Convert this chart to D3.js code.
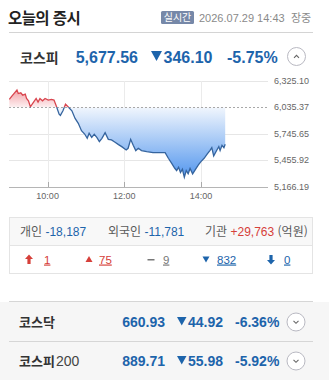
<!DOCTYPE html>
<html lang="ko">
<head>
<meta charset="utf-8">
<title>오늘의 증시</title>
<script src="https://cdn.jsdelivr.net/npm/d3@7"></script>
<style>
  html, body { margin: 0; padding: 0; background: #fff; }
  svg { display: block; }
  text { font-family: "Liberation Sans", "Noto Sans CJK KR", sans-serif; }
  .kr { font-family: "Noto Sans CJK KR", "Liberation Sans", sans-serif; }
</style>
</head>
<body>
<svg id="main" width="329" height="380"></svg>
<script>
// intraday KOSPI
var times = ["09:00","09:04","09:12","09:14","09:18","09:21","09:25","09:27","09:30","09:33",
  "09:38","09:42","09:45","09:48","09:52","09:56","10:01","10:06","10:10","10:14",
  "10:18","10:20","10:24","10:28","10:32","10:38","10:43","10:48","10:53","10:58",
  "11:02","11:05","11:09","11:13","11:17","11:21","11:25","11:30","11:35","11:40",
  "11:45","11:51","11:56","12:03","12:06","12:10","12:14","12:18","12:22","12:27",
  "12:35","12:45","13:04","13:09","13:14","13:19","13:22","13:25","13:28","13:31",
  "13:34","13:37","13:40","13:43","13:47","13:51","13:56","14:00","14:05","14:10",
  "14:14","14:17","14:20","14:25","14:28","14:30","14:33","14:36","14:38"];
var values = [6120,6156,6222,6185,6193,6167,6178,6131,6105,6040,
  6091,6131,6091,6131,6105,6131,6113,6120,6113,6040,
  5960,5946,5996,6069,6040,5996,5913,5859,5779,5742,
  5695,5750,5706,5739,5706,5659,5695,5757,5684,5677,
  5655,5626,5604,5568,5586,5684,5619,5561,5586,5561,
  5550,5539,5539,5477,5423,5368,5343,5379,5321,5357,
  5270,5343,5307,5365,5307,5350,5405,5441,5477,5524,
  5561,5593,5503,5568,5604,5561,5619,5593,5630];
var prevClose = 6035.37;
var yTicks = [6325.10, 6035.37, 5745.65, 5455.92, 5166.19];
var xTicks = ["10:00", "12:00", "14:00"];

var indexNames = ["코스피", "코스닥", "코스피"];
var indexSuffix = ["", "", "200"];
var indexValues = ["5,677.56", "660.93", "889.71"];
var indexChanges = ["346.10", "44.92", "55.98"];
var indexRates = ["-5.75%", "-6.36%", "-5.92%"];

var investorNames = ["개인", "외국인", "기관"];
var investorValues = [-18187, -11781, 29763];
var breadthCounts = [1, 75, 9, 832, 0];

var BLUE = "#1d64ab", RED = "#d6403a", GRAY = "#666";

var svg = d3.select("#main");
var fmt = d3.format(",.2f");
var fmtInt = function(v) { return d3.format(",d")(v).replace("\u2212", "-"); };

function toMin(t) { var p = t.split(":"); return (+p[0] - 9) * 60 + (+p[1]); }

// ---- header
svg.append("text").attr("class", "kr").attr("x", 8).attr("y", 24)
  .attr("font-size", 15.5).attr("font-weight", "bold").attr("fill", "#222")
  .attr("letter-spacing", -0.6).text("오늘의 증시");
svg.append("rect").attr("x", 161).attr("y", 11).attr("width", 33).attr("height", 13)
  .attr("rx", 1.5).attr("fill", "#7688a8");
svg.append("text").attr("class", "kr").attr("x", 177.5).attr("y", 21.3).attr("text-anchor", "middle")
  .attr("font-size", 10).attr("fill", "#fff").text("실시간");
svg.append("text").attr("x", 199).attr("y", 22).attr("font-size", 11).attr("fill", "#8a8a8a")
  .text("2026.07.29 14:43");
svg.append("text").attr("class", "kr").attr("x", 291).attr("y", 22).attr("font-size", 11)
  .attr("fill", "#8a8a8a").text("장중");
svg.append("line").attr("x1", 9).attr("x2", 313).attr("y1", 32.5).attr("y2", 32.5)
  .attr("stroke", "#d4d4d4");

// chevron button
function button(cx, cy, up, fill) {
  svg.append("circle").attr("cx", cx).attr("cy", cy).attr("r", 9)
    .attr("fill", fill).attr("stroke", "#b9b9c2").attr("stroke-width", 1);
  var d = up ? [[-2.5, 1.3], [0, -1.2], [2.5, 1.3]] : [[-2.5, -1.2], [0, 1.3], [2.5, -1.2]];
  svg.append("path").attr("d", d3.line()(d.map(function(p) { return [cx + p[0], cy + p[1]]; })))
    .attr("fill", "none").attr("stroke", "#666").attr("stroke-width", 1.1);
}

function indexRow(i, y, size, nameX, valEnd, chgX, rateX) {
  var t = svg.append("text").attr("class", "kr").attr("x", nameX).attr("y", y)
    .attr("font-size", size === 16 ? 14 : 13).attr("font-weight", "bold").attr("fill", "#333");
  t.append("tspan").text(indexNames[i]);
  if (indexSuffix[i]) t.append("tspan").attr("font-weight", "normal").attr("font-family", "Liberation Sans")
    .attr("font-size", 14).attr("fill", "#444").attr("dx", 1).text(indexSuffix[i]);
  svg.append("text").attr("x", valEnd).attr("y", y).attr("text-anchor", "end")
    .attr("font-size", size).attr("font-weight", "bold").attr("fill", BLUE).text(indexValues[i]);
  var s = size === 16 ? 11 : 9.5;
  var ty = y - (size === 16 ? 11.5 : 10);
  svg.append("path").attr("d", "M" + chgX + "," + ty + "h" + s + "l" + (-s / 2) + "," + (s * 0.9) + "z")
    .attr("fill", BLUE);
  svg.append("text").attr("x", chgX + s + 1.5).attr("y", y)
    .attr("font-size", size).attr("font-weight", "bold").attr("fill", BLUE).text(indexChanges[i]);
  svg.append("text").attr("x", rateX).attr("y", y)
    .attr("font-size", size).attr("font-weight", "bold").attr("fill", BLUE).text(indexRates[i]);
}

indexRow(0, 62.5, 16, 20, 138, 151, 227);
button(296.5, 56.5, true, "#fff");

// ---- chart
var x = d3.scaleLinear().domain([0, 405]).range([9.3, 268]);
var y = d3.scaleLinear().domain([5166.19, 6325.10]).range([186.7, 80.7]);
var pts = times.map(function(t, i) { return { m: toMin(t), v: values[i] }; });
var yBase = y(prevClose);

svg.selectAll("line.hgrid").data(yTicks).enter().append("line").attr("class", "hgrid")
  .attr("x1", 9).attr("x2", 268)
  .attr("y1", function(d) { return Math.round(y(d)) + 0.5; })
  .attr("y2", function(d) { return Math.round(y(d)) + 0.5; })
  .attr("stroke", function(d, i) { return i === yTicks.length - 1 ? "#b5b5b5" : "#e6e6e6"; })
  .style("display", function(d) { return d === prevClose ? "none" : null; });

svg.selectAll("line.vgrid").data(xTicks).enter().append("line").attr("class", "vgrid")
  .attr("x1", function(d) { return Math.round(x(toMin(d))) + 0.5; })
  .attr("x2", function(d) { return Math.round(x(toMin(d))) + 0.5; })
  .attr("y1", 81).attr("y2", 186.5).attr("stroke", "#ebebeb");
svg.selectAll("line.vtick").data(xTicks).enter().append("line").attr("class", "vtick")
  .attr("x1", function(d) { return Math.round(x(toMin(d))) + 0.5; })
  .attr("x2", function(d) { return Math.round(x(toMin(d))) + 0.5; })
  .attr("y1", 182).attr("y2", 187).attr("stroke", "#aaa");

svg.selectAll("text.xlab").data(xTicks).enter().append("text").attr("class", "xlab")
  .attr("x", function(d) { return x(toMin(d)); }).attr("y", 199).attr("text-anchor", "middle")
  .attr("font-size", 9).attr("fill", GRAY).text(function(d) { return d; });
svg.selectAll("text.ylab").data(yTicks).enter().append("text").attr("class", "ylab")
  .attr("x", 274).attr("y", function(d) { return y(d) + 3; })
  .attr("font-size", 9).attr("fill", GRAY).text(function(d) { return fmt(d); });

var defs = svg.append("defs");
var gB = defs.append("linearGradient").attr("id", "gBlue").attr("gradientUnits", "userSpaceOnUse")
  .attr("x1", 0).attr("x2", 0).attr("y1", yBase).attr("y2", y(d3.min(values)));
gB.append("stop").attr("offset", 0).attr("stop-color", "#f1f6fd");
gB.append("stop").attr("offset", 1).attr("stop-color", "#5497ee");
var gR = defs.append("linearGradient").attr("id", "gRed").attr("gradientUnits", "userSpaceOnUse")
  .attr("x1", 0).attr("x2", 0).attr("y1", y(d3.max(values))).attr("y2", yBase);
gR.append("stop").attr("offset", 0).attr("stop-color", "#f3a2a8");
gR.append("stop").attr("offset", 1).attr("stop-color", "#fdf0f1");
defs.append("clipPath").attr("id", "cUp").append("rect")
  .attr("x", 0).attr("y", 0).attr("width", 329).attr("height", yBase);
defs.append("clipPath").attr("id", "cDown").append("rect")
  .attr("x", 0).attr("y", yBase).attr("width", 329).attr("height", 200);

var area = d3.area().x(function(d) { return x(d.m); }).y0(yBase).y1(function(d) { return y(d.v); });
var line = d3.line().x(function(d) { return x(d.m); }).y(function(d) { return y(d.v); });

svg.append("path").datum(pts).attr("d", area).attr("fill", "url(#gRed)").attr("clip-path", "url(#cUp)");
svg.append("path").datum(pts).attr("d", area).attr("fill", "url(#gBlue)").attr("clip-path", "url(#cDown)");
svg.append("line").attr("x1", 9).attr("x2", 268).attr("y1", Math.round(yBase) + 0.5).attr("y2", Math.round(yBase) + 0.5)
  .attr("stroke", "#a8a8a8").attr("stroke-dasharray", "2,2");
svg.append("path").datum(pts).attr("d", line).attr("fill", "none").attr("stroke", "#d9464f")
  .attr("stroke-width", 1.3).attr("clip-path", "url(#cUp)");
svg.append("path").datum(pts).attr("d", line).attr("fill", "none").attr("stroke", "#35649e")
  .attr("stroke-width", 1.3).attr("clip-path", "url(#cDown)");

// ---- investors box
svg.append("rect").attr("x", 9.5).attr("y", 217.5).attr("width", 303).attr("height", 27.5)
  .attr("fill", "#f8f8f8");
svg.append("rect").attr("x", 9.5).attr("y", 217.5).attr("width", 303).attr("height", 56)
  .attr("fill", "none").attr("stroke", "#e4e4e4");
svg.append("line").attr("x1", 9.5).attr("x2", 312.5).attr("y1", 245.5).attr("y2", 245.5).attr("stroke", "#e4e4e4");

var invX = [20, 108, 205];
investorNames.forEach(function(n, i) {
  var t = svg.append("text").attr("class", "kr").attr("x", invX[i]).attr("y", 236)
    .attr("font-size", 12).attr("fill", "#5a5a5a");
  t.append("tspan").text(n + " ");
  var v = investorValues[i];
  t.append("tspan").attr("font-family", "Liberation Sans").attr("fill", v < 0 ? BLUE : RED)
    .text((v > 0 ? "+" : "") + fmtInt(v));
  if (i === 2) t.append("tspan").attr("fill", "#5a5a5a").text(" (억원)");
});

// breadth row
var bx = [29, 89, 151, 206, 271];
var bColor = [RED, RED, "#777", BLUE, BLUE];
var by = 259.5;
svg.append("path").attr("d", "M" + bx[0] + "," + (by - 5) + "l4,4.5h-2.4v5h-3.2v-5h-2.4z").attr("fill", RED);
svg.append("path").attr("d", "M" + (bx[1] - 3.5) + "," + (by + 2.5) + "h7l-3.5,-6z").attr("fill", RED);
svg.append("rect").attr("x", bx[2] - 3.5).attr("y", by - 0.5).attr("width", 7).attr("height", 1.5).attr("fill", "#777");
svg.append("path").attr("d", "M" + (bx[3] - 3.5) + "," + (by - 3) + "h7l-3.5,6z").attr("fill", BLUE);
svg.append("path").attr("d", "M" + bx[4] + "," + (by + 5) + "l4,-4.5h-2.4v-5h-3.2v5h-2.4z").attr("fill", BLUE);
var bTextX = [44, 99, 163, 217, 284];
breadthCounts.forEach(function(c, i) {
  svg.append("text").attr("x", bTextX[i]).attr("y", by + 4).attr("font-size", 11.5)
    .attr("fill", bColor[i]).attr("text-decoration", "underline").text(fmtInt(c));
});

// ---- other indices
svg.append("rect").attr("x", 0).attr("y", 302).attr("width", 329).attr("height", 78).attr("fill", "#f6f6f6");
svg.append("line").attr("x1", 9).attr("x2", 313).attr("y1", 301.5).attr("y2", 301.5).attr("stroke", "#d6d6d6");
svg.append("line").attr("x1", 9).attr("x2", 313).attr("y1", 341.5).attr("y2", 341.5).attr("stroke", "#d6d6d6");
indexRow(1, 327, 14, 19, 165, 177, 235);
button(296, 322, false, "#fff");
indexRow(2, 366, 14, 19, 165, 177, 235);
button(296, 361, false, "#fff");
</script>
</body>
</html>
